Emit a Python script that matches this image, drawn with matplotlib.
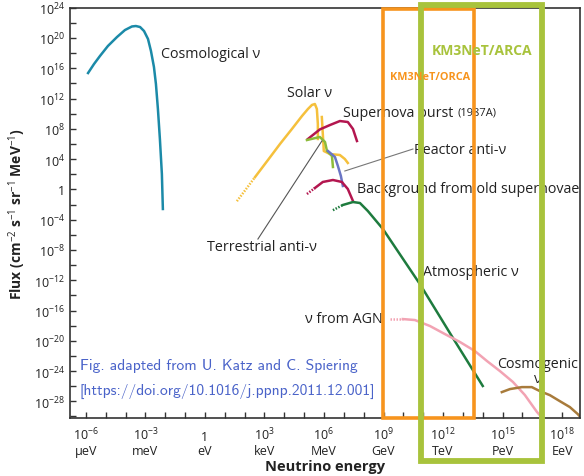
import matplotlib
matplotlib.use("Agg")
import matplotlib.pyplot as plt
from matplotlib.patches import Rectangle

plt.rcParams['font.family'] = ['Open Sans', 'DejaVu Sans']
plt.rcParams['mathtext.fontset'] = 'custom'
plt.rcParams['mathtext.rm'] = 'Open Sans'
plt.rcParams['mathtext.bf'] = 'Open Sans:bold'
plt.rcParams['mathtext.it'] = 'Open Sans:italic'

# all curves given as log10(E / eV) and log10(flux)
cosmo_e = [-5.89, -5.59, -5.29, -4.89, -4.43, -4.03, -3.68, -3.48, -3.27, -3.07, -2.87,
           -2.72, -2.57, -2.47, -2.37, -2.27, -2.17, -2.12]
cosmo_f = [15.37, 16.56, 17.62, 18.94, 20.13, 21.05, 21.52, 21.58, 21.45, 20.92, 19.87,
           18.28, 16.17, 13.92, 10.62, 6.66, 2.03, -2.59]

solar_dot_e = [1.61, 2.07, 2.52]
solar_dot_f = [-1.56, 0.03, 1.61]
solar_e = [2.52, 3.17, 3.78, 4.38, 4.89, 5.19, 5.39, 5.54, 5.64, 5.69, 5.69]
solar_f = [1.61, 3.86, 5.99, 7.97, 9.69, 10.62, 11.15, 11.28, 10.62, 8.64, 6.66]
solar2_e = [5.89, 5.94, 5.99, 6.30, 6.80, 7.05, 7.20]
solar2_f = [9.56, 7.31, 5.07, 4.67, 4.54, 4.01, 3.49]

sn_e = [5.19, 5.79, 6.30, 6.80, 7.20, 7.46, 7.66]
sn_f = [6.66, 7.92, 8.50, 9.03, 8.90, 7.98, 6.39]

reactor_e = [5.14, 5.79, 6.05, 6.15, 6.40, 6.45]
reactor_f = [6.52, 6.92, 6.26, 5.07, 4.41, 2.96]

terr_e = [6.20, 6.55, 6.70, 6.85, 6.95]
terr_f = [5.07, 4.28, 3.09, 1.77, 0.45]

bg_dot_e = [5.14, 5.54]
bg_dot_f = [-0.61, 0.18]
bg_e = [5.54, 5.94, 6.45, 6.90, 7.20, 7.46]
bg_f = [0.18, 0.98, 1.24, 0.98, 0.05, -1.54]

atm_dot_e = [6.45, 6.95]
atm_dot_f = [-2.75, -2.06]
atm_e = [6.95, 7.46, 7.81, 8.21, 8.97, 10.83, 12.49, 14.0]
atm_f = [-2.06, -1.67, -1.80, -2.86, -5.24, -12.5, -19.6, -25.97]

agn_dot_e = [9.32, 9.97]
agn_dot_f = [-17.13, -17.13]
agn_e = [9.97, 10.58, 11.34, 12.09, 12.85, 13.6, 14.21, 14.86, 15.52, 16.12, 16.73, 17.13]
agn_f = [-17.13, -17.26, -18.05, -19.11, -20.16, -21.35, -22.67, -23.99, -25.44, -27.16,
         -29.4, -30.6]

cosmogenic_e = [14.96, 15.37, 15.97, 16.47, 16.88, 17.38, 17.88, 18.39, 18.79, 19.19]
cosmogenic_f = [-26.78, -26.38, -26.12, -26.12, -26.65, -27.18, -27.97, -28.76, -29.69, -30.9]

# detector ranges (log10 E) and vertical extent (log10 flux)
orca_box = [8.97, 13.55, -30.2, 23.83]
arca_box = [10.88, 16.98, -35.9, 24.35]

x_major = [-6, -3, 0, 3, 6, 9, 12, 15, 18]
x_units = ['μeV', 'meV', 'eV', 'keV', 'MeV', 'GeV', 'TeV', 'PeV', 'EeV']
y_major = list(range(24, -29, -4))


def e(v):
    return 10.0 ** v


def p(xs, ys):
    return [e(v) for v in xs], [e(v) for v in ys]


fig = plt.figure(figsize=(5.84, 4.77), dpi=100)
ax = fig.add_axes([70 / 584, 1 - 419 / 477, 510 / 584, (419 - 8.7) / 477])
ax.set_xscale('log')
ax.set_yscale('log')
ax.set_xlim(e(-6.8), e(18.9))
ax.set_ylim(e(-30.2), e(24))

lw = 1.8
dots = (0, (0.6, 0.6))
ax.plot(*p(cosmo_e, cosmo_f), color='#1b8aa8', lw=lw)
ax.plot(*p(solar_dot_e, solar_dot_f), color='#f5c03c', lw=lw, ls=dots)
ax.plot(*p(solar_e, solar_f), color='#f5c03c', lw=lw)
ax.plot(*p(solar2_e, solar2_f), color='#f5c03c', lw=lw)
ax.plot(*p(sn_e, sn_f), color='#b3164f', lw=lw)
ax.plot(*p(reactor_e, reactor_f), color='#8dbb3a', lw=lw)
ax.plot(*p(terr_e, terr_f), color='#6a75c4', lw=lw)
ax.plot(*p(bg_dot_e, bg_dot_f), color='#b3164f', lw=lw, ls=dots)
ax.plot(*p(bg_e, bg_f), color='#b3164f', lw=lw)
ax.plot(*p(atm_dot_e, atm_dot_f), color='#1e7b3e', lw=lw, ls=dots)
ax.plot(*p(atm_e, atm_f), color='#1e7b3e', lw=lw)
ax.plot(*p(agn_dot_e, agn_dot_f), color='#f2a3b3', lw=lw, ls=dots)
ax.plot(*p(agn_e, agn_f), color='#f2a3b3', lw=lw)
ax.plot(*p(cosmogenic_e, cosmogenic_f), color='#a87b3b', lw=lw)

# pointer lines
ax.plot(*p([10.48, 7.05], [5.33, 2.43]), color='#777777', lw=0.8)
ax.plot(*p([2.67, 5.89], [-6.56, 6.38]), color='#555555', lw=0.8)

lab = dict(fontsize=10.3, color='#222222', va='center')
ax.text(e(-2.22), e(17.9), 'Cosmological ν', **lab)
ax.text(e(4.13), e(12.86), 'Solar ν', **lab)
ax.text(e(6.95), e(10.2), 'Supernova burst', **lab)
ax.text(e(12.75), e(10.2), '(1987A)', fontsize=8, color='#222222', va='center')
ax.text(e(10.53), e(5.33), 'Reactor anti-ν', **lab)
ax.text(e(7.66), e(0.18), 'Background from old supernovae', clip_on=True, **lab)
ax.text(e(0.1), e(-7.6), 'Terrestrial anti-ν', **lab)
ax.text(e(10.98), e(-10.9), 'Atmospheric ν', **lab)
ax.text(e(5.04), e(-17.1), 'ν from AGN', **lab)
ax.text(e(16.78), e(-24.0), 'Cosmogenic\nν', ha='center', fontsize=10.3,
        color='#222222', va='center', linespacing=1.0)

note = dict(fontsize=11.2, color='#4a63c9', family=['cmss10', 'DejaVu Sans'])
ax.text(e(-6.3), e(-23.2), 'Fig. adapted from U. Katz and C. Spiering', va='center', **note)
ax.text(e(-6.3), e(-26.6), '[https://doi.org/10.1016/j.ppnp.2011.12.001]', va='center', **note)

# detector boxes
for box, col, w in [(orca_box, '#f7941d', 2.6), (arca_box, '#a8c33c', 4.2)]:
    x0, x1, y0, y1 = box
    r = Rectangle((e(x0), e(y0)), e(x1) - e(x0), e(y1) - e(y0),
                  fill=False, edgecolor=col, lw=w, clip_on=False, zorder=5)
    ax.add_patch(r)
ax.text(e(13.95), e(18.4), 'KM3NeT/ARCA', color='#a8c33c', fontsize=10,
        fontweight='bold', ha='center', va='center', zorder=6)
ax.text(e(11.35), e(14.85), 'KM3NeT/ORCA', color='#f7941d', fontsize=7.8,
        fontweight='bold', ha='center', va='center', zorder=6)

# axes styling
for s in ['left', 'bottom', 'top', 'right']:
    ax.spines[s].set_color('#333333')
    ax.spines[s].set_linewidth(1.2)
ax.set_xticks([e(v) for v in x_major])
ax.set_xticklabels(['1' if v == 0 else '10$^{%d}$' % v for v in x_major], va='baseline')
ax.set_xticks([e(v) for v in range(-6, 19)], minor=True)
ax.set_yticks([e(v) for v in y_major])
ax.set_yticklabels(['1' if v == 0 else '10$^{%d}$' % v for v in y_major])
ax.set_yticks([e(v) for v in range(-30, 24, 2)], minor=True)
ax.tick_params(which='both', direction='in', length=4, width=1, color='#333333',
               labelsize=9, labelcolor='#222222', top=False, right=False)
ax.tick_params(axis='x', which='major', pad=15.5)
ax.xaxis.set_minor_formatter(plt.NullFormatter())
ax.yaxis.set_minor_formatter(plt.NullFormatter())

# energy units under the tick numbers
tr = ax.get_xaxis_transform()
for v, u in zip(x_major, x_units):
    ax.text(e(v), -(455 - 419) / 410.3, u, transform=tr, ha='center', va='baseline',
            fontsize=9, color='#222222')

ax.set_xlabel('Neutrino energy', fontsize=10.5, fontweight='bold', color='#222222', labelpad=12)
ax.set_ylabel('Flux (cm$^{-2}$ s$^{-1}$ sr$^{-1}$ MeV$^{-1}$)', fontsize=10, fontweight='bold',
              color='#222222', labelpad=4)

fig.savefig('out.png', dpi=100)
